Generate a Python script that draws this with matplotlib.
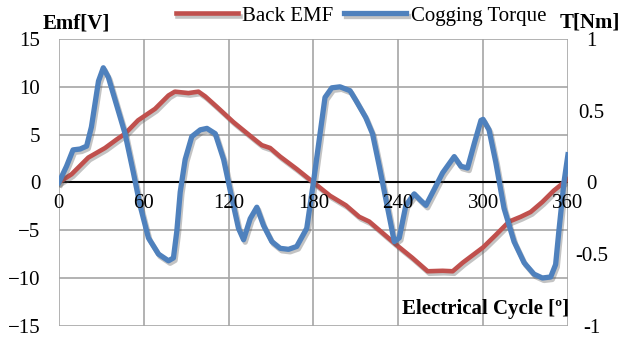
import matplotlib
matplotlib.use('Agg')
import matplotlib.pyplot as plt
import matplotlib.patheffects as pe

plt.rcParams['font.family'] = ['Liberation Serif', 'DejaVu Serif']

# Back EMF [V] vs electrical angle [deg]
emf_deg = [0, 9, 20.8, 32.6, 40.9, 46.8, 56, 68, 77.5, 82, 91.6, 98.7, 103.5, 111.8,
           123.5, 138.8, 143.5, 149.4, 156.5, 168.2, 180, 191.8, 203, 212.4, 219.5,
           226.6, 240, 250, 260.8, 271.4, 278.5, 285.6, 300, 309, 318.4, 326.6,
           333.6, 341.9, 350, 360]
emf_v = [0, 0.86, 2.6, 3.6, 4.5, 5.1, 6.5, 7.7, 9.1, 9.5, 9.35, 9.5, 9.0, 7.9,
         6.3, 4.45, 3.9, 3.6, 2.7, 1.4, 0, -1.4, -2.4, -3.6, -4.1,
         -5.0, -6.7, -7.9, -9.3, -9.25, -9.3, -8.4, -6.8, -5.5, -4.1, -3.6,
         -3.1, -2.05, -0.86, 0.34]

# Cogging torque [Nm] vs electrical angle [deg]
tq_deg = [0, 5.4, 10, 15, 19.6, 23, 28, 31.4, 35, 42, 46.8, 52.7, 57.4, 63.3, 70.4,
          77.5, 81, 83.4, 85.8, 89.3, 94, 100, 104.7, 110.6, 116.5, 122.4, 127,
          130.6, 135.3, 140, 144.7, 150.6, 156.5, 162.4, 168.2, 175.3, 180, 184.7,
          188.2, 193, 198.8, 205.9, 210, 217, 221.8, 226.6, 232.5, 237.2, 240.7,
          245.4, 251.3, 256, 259.6, 265.5, 271.4, 279.6, 284.3, 289, 293.8, 298.5,
          300, 304.2, 309, 314.8, 321.9, 329, 336, 341.9, 347.8, 351.3, 353.6,
          357.2, 360]
tq_nm = [0, 0.113, 0.227, 0.233, 0.253, 0.387, 0.707, 0.80, 0.733, 0.50, 0.34, 0.067,
         -0.16, -0.387, -0.50, -0.547, -0.527, -0.34, -0.067, 0.16, 0.32, 0.367, 0.377,
         0.34, 0.16, -0.113, -0.32, -0.40, -0.253, -0.173, -0.30, -0.413, -0.46,
         -0.467, -0.447, -0.32, 0, 0.34, 0.593, 0.66, 0.667, 0.64, 0.573, 0.453,
         0.34, 0.113, -0.18, -0.413, -0.387, -0.16, -0.08, -0.127, -0.16, -0.047,
         0.067, 0.18, 0.113, 0.10, 0.273, 0.433, 0.44, 0.367, 0.14, -0.18, -0.413,
         -0.56, -0.64, -0.667, -0.66, -0.573, -0.34, 0, 0.193]

x_ticks = [0, 60, 120, 180, 240, 300, 360]
emf_ticks = [-15, -10, -5, 0, 5, 10, 15]
tq_ticks = [-1, -0.5, 0, 0.5, 1]
tq_labels = ['-1', '-0.5', '0', '0.5', '1']

red = '#C0504D'
blue = '#4F81BD'
fs = 15
shadow = [pe.SimpleLineShadow(offset=(1.2, -1.8), shadow_color='#555555', alpha=0.35),
          pe.Normal()]

fig = plt.figure(figsize=(6.2, 3.4), dpi=100)
ax = fig.add_axes([0.095, 0.042, 0.821, 0.843])
ax2 = ax.twinx()

ax.axhline(0, color='black', lw=1.5, zorder=1)
l1, = ax.plot(emf_deg, emf_v, color=red, lw=3.3, solid_joinstyle='round',
              path_effects=shadow, label='Back EMF', zorder=2)
l2, = ax2.plot(tq_deg, tq_nm, color=blue, lw=3.8, solid_joinstyle='round',
               path_effects=shadow, label='Cogging Torque', zorder=2)

ax.set_xlim(0, 360)
ax.set_ylim(-15, 15)
ax2.set_ylim(-1, 1)
ax.set_xticks(x_ticks)
ax.set_yticks(emf_ticks)
ax2.set_yticks(tq_ticks)
ax2.set_yticklabels(tq_labels)

ax.grid(True, color='#A6A6A6', lw=1.2)
ax.set_axisbelow(True)
for s in ['left', 'right', 'top', 'bottom']:
    ax.spines[s].set_visible(False)
    ax2.spines[s].set_visible(False)

# x tick labels sit on the zero line, drawn above the curves
ax.tick_params(axis='x', length=0, labelbottom=False)
ax2.xaxis.set_visible(True)
ax2.spines['bottom'].set_position(('data', 0))
ax2.set_axisbelow(False)
ax2.tick_params(axis='x', length=0, pad=8, labelsize=fs)

ax.tick_params(axis='y', length=0, pad=13.5, labelsize=fs)
ax2.tick_params(axis='y', length=0, pad=17, labelsize=fs)
for lab in ax2.get_yticklabels():
    lab.set_horizontalalignment('center')

fig.text(0.069, 0.93, 'Emf[V]', fontsize=fs, fontweight='bold', va='center')
fig.text(0.902, 0.935, 'T[Nm]', fontsize=fs, fontweight='bold', va='center')
ax.text(360.5, -13.3, 'Electrical Cycle [º]', fontsize=fs, fontweight='bold',
        ha='right', va='center')

fig.legend(handles=[l1, l2], loc='center', bbox_to_anchor=(0.582, 0.953), ncol=2,
           frameon=False, fontsize=fs, handlelength=3.0, handletextpad=0.2,
           columnspacing=0.5)

fig.savefig('out.png', dpi=100)
